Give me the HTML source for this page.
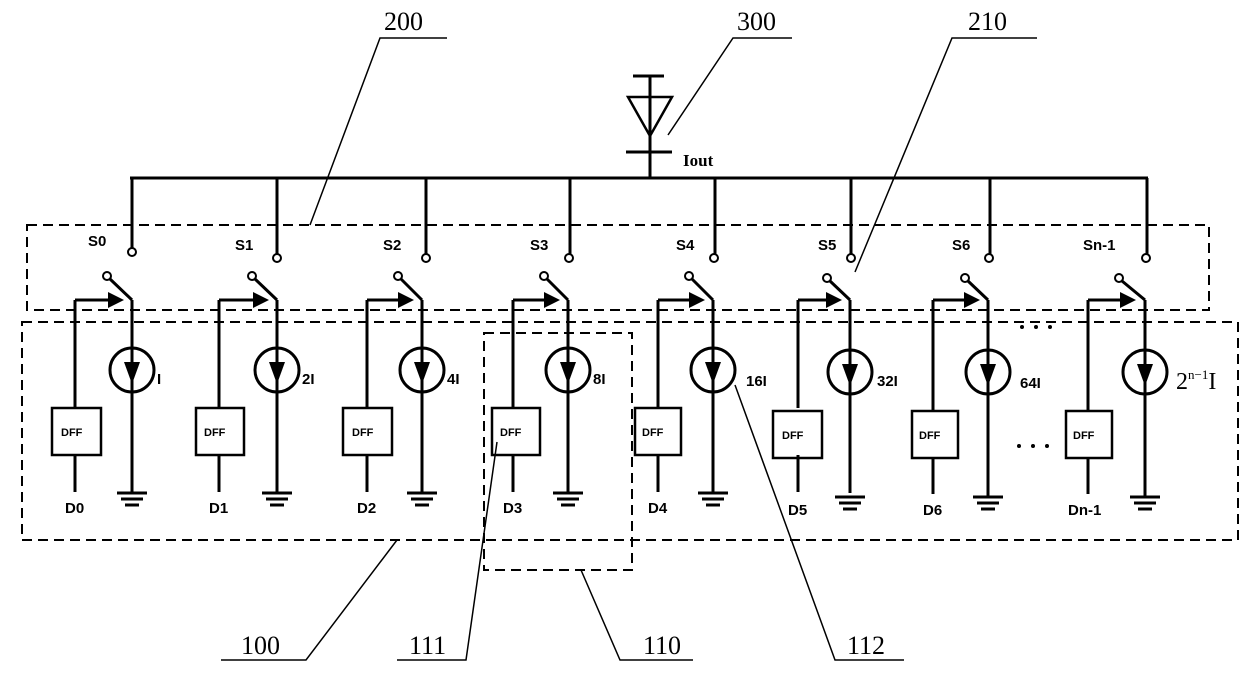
<!DOCTYPE html>
<html><head><meta charset="utf-8"><style>
html,body{margin:0;padding:0;background:#fff;width:1240px;height:694px;overflow:hidden}
svg{display:block}
.b{font-family:"Liberation Sans",sans-serif;font-weight:bold;font-size:15px}
.n{font-family:"Liberation Serif",serif;font-size:26px}
</style></head><body>
<svg width="1240" height="694" viewBox="0 0 1240 694" xmlns="http://www.w3.org/2000/svg">
<defs>
<g id="gnd" stroke="#000" stroke-width="3"><line x1="-15" y1="0" x2="15" y2="0"/><line x1="-11" y1="6" x2="11" y2="6"/><line x1="-7" y1="12" x2="7" y2="12"/></g>
</defs>
<g fill="none" stroke="#000" stroke-width="2" stroke-dasharray="10,6">
<rect x="27" y="225" width="1182" height="85"/>
<rect x="22" y="322" width="1216" height="218"/>
<rect x="484" y="333" width="148" height="237"/>
</g>
<g stroke="#000" stroke-width="3" fill="none">
<line x1="130" y1="178" x2="1148" y2="178"/>
<line x1="650" y1="178" x2="650" y2="76"/>
<line x1="633" y1="76" x2="664" y2="76"/>
<polygon points="628,97 672,97 650,136" stroke-width="2.5"/>
<line x1="626" y1="152" x2="672" y2="152"/>
</g>
<text x="683" y="166" style="font-family:'Liberation Serif',serif;font-size:17px;font-weight:bold">Iout</text>
<g stroke="#000" stroke-width="1.5" fill="none">
<polyline points="447,38 380,38 310,225"/>
<polyline points="792,38 733,38 668,135"/>
<polyline points="1037,38 952,38 855,272"/>
<polyline points="221,660 306,660 397,540"/>
<polyline points="397,660 466,660 497,442"/>
<polyline points="693,660 620,660 581,570"/>
<polyline points="904,660 835,660 735,385"/>
</g>
<g class="n">
<text x="384" y="30">200</text><text x="737" y="30">300</text><text x="968" y="30">210</text>
<text x="241" y="654">100</text><text x="409" y="654">111</text><text x="643" y="654">110</text><text x="847" y="654">112</text>
</g>
<g id="c">
<g stroke="#000" stroke-width="3" fill="none">
<path d="M132 178V248 M132 300V493 M75 300V408 M75 455V492 M75 300H110"/>
<circle cx="132" cy="252" r="4" stroke-width="2"/><circle cx="107" cy="276" r="4" stroke-width="2"/>
<line x1="110" y1="279" x2="132" y2="300"/>
<circle cx="132" cy="370" r="22"/>
<rect x="52" y="408" width="49" height="47" stroke-width="2.5"/>
</g>
<polygon points="108,292 124,300 108,308"/><polygon points="124,362 140,362 132,384"/>
<use href="#gnd" x="132" y="493"/>
<g stroke="#000" stroke-width="3" fill="none">
<path d="M277 178V254 M277 300V493 M219 300V408 M219 455V492 M219 300H255"/>
<circle cx="277" cy="258" r="4" stroke-width="2"/><circle cx="252" cy="276" r="4" stroke-width="2"/>
<line x1="255" y1="279" x2="277" y2="300"/>
<circle cx="277" cy="370" r="22"/>
<rect x="196" y="408" width="48" height="47" stroke-width="2.5"/>
</g>
<polygon points="253,292 269,300 253,308"/><polygon points="269,362 285,362 277,384"/>
<use href="#gnd" x="277" y="493"/>
<g stroke="#000" stroke-width="3" fill="none">
<path d="M426 178V254 M422 300V493 M367 300V408 M367 455V492 M367 300H400"/>
<circle cx="426" cy="258" r="4" stroke-width="2"/><circle cx="398" cy="276" r="4" stroke-width="2"/>
<line x1="401" y1="279" x2="422" y2="300"/>
<circle cx="422" cy="370" r="22"/>
<rect x="343" y="408" width="49" height="47" stroke-width="2.5"/>
</g>
<polygon points="398,292 414,300 398,308"/><polygon points="414,362 430,362 422,384"/>
<use href="#gnd" x="422" y="493"/>
<g stroke="#000" stroke-width="3" fill="none">
<path d="M570 178V254 M568 300V493 M513 300V408 M513 455V492 M513 300H545"/>
<circle cx="569" cy="258" r="4" stroke-width="2"/><circle cx="544" cy="276" r="4" stroke-width="2"/>
<line x1="547" y1="279" x2="568" y2="300"/>
<circle cx="568" cy="370" r="22"/>
<rect x="492" y="408" width="48" height="47" stroke-width="2.5"/>
</g>
<polygon points="544,292 560,300 544,308"/><polygon points="560,362 576,362 568,384"/>
<use href="#gnd" x="568" y="493"/>
<g stroke="#000" stroke-width="3" fill="none">
<path d="M715 178V254 M713 300V493 M658 300V408 M658 455V492 M658 300H690"/>
<circle cx="714" cy="258" r="4" stroke-width="2"/><circle cx="689" cy="276" r="4" stroke-width="2"/>
<line x1="692" y1="279" x2="713" y2="300"/>
<circle cx="713" cy="370" r="22"/>
<rect x="635" y="408" width="46" height="47" stroke-width="2.5"/>
</g>
<polygon points="689,292 705,300 689,308"/><polygon points="705,362 721,362 713,384"/>
<use href="#gnd" x="713" y="493"/>
<g stroke="#000" stroke-width="3" fill="none">
<path d="M851 178V254 M850 300V493 M798 300V408 M798 455V492 M798 300H828"/>
<circle cx="851" cy="258" r="4" stroke-width="2"/><circle cx="827" cy="278" r="4" stroke-width="2"/>
<line x1="830" y1="281" x2="850" y2="300"/>
<circle cx="850" cy="372" r="22"/>
<rect x="773" y="411" width="49" height="47" stroke-width="2.5"/>
</g>
<polygon points="826,292 842,300 826,308"/><polygon points="842,364 858,364 850,386"/>
<use href="#gnd" x="850" y="497"/>
<g stroke="#000" stroke-width="3" fill="none">
<path d="M990 178V254 M988 300V497 M933 300V411 M933 458V494 M933 300H966"/>
<circle cx="989" cy="258" r="4" stroke-width="2"/><circle cx="965" cy="278" r="4" stroke-width="2"/>
<line x1="968" y1="281" x2="988" y2="300"/>
<circle cx="988" cy="372" r="22"/>
<rect x="912" y="411" width="46" height="47" stroke-width="2.5"/>
</g>
<polygon points="964,292 980,300 964,308"/><polygon points="980,364 996,364 988,386"/>
<use href="#gnd" x="988" y="497"/>
<g stroke="#000" stroke-width="3" fill="none">
<path d="M1147 178V254 M1145 300V497 M1088 300V411 M1088 458V494 M1088 300H1122"/>
<circle cx="1146" cy="258" r="4" stroke-width="2"/><circle cx="1119" cy="278" r="4" stroke-width="2"/>
<line x1="1122" y1="281" x2="1145" y2="300"/>
<circle cx="1145" cy="372" r="22"/>
<rect x="1066" y="411" width="46" height="47" stroke-width="2.5"/>
</g>
<polygon points="1120,292 1136,300 1120,308"/><polygon points="1137,364 1153,364 1145,386"/>
<use href="#gnd" x="1145" y="497"/>
</g>
<g class="b">
<text x="88" y="246">S0</text><text x="235" y="250">S1</text><text x="383" y="250">S2</text><text x="530" y="250">S3</text>
<text x="676" y="250">S4</text><text x="818" y="250">S5</text><text x="952" y="250">S6</text><text x="1083" y="250">Sn-1</text>
<text x="157" y="384">I</text><text x="302" y="384">2I</text><text x="447" y="384">4I</text><text x="593" y="384">8I</text>
<text x="746" y="386">16I</text><text x="877" y="386">32I</text><text x="1020" y="388">64I</text>
<text x="65" y="513">D0</text><text x="209" y="513">D1</text><text x="357" y="513">D2</text><text x="503" y="513">D3</text>
<text x="648" y="513">D4</text><text x="788" y="515">D5</text><text x="923" y="515">D6</text><text x="1068" y="515">Dn-1</text>
</g>
<g font-family="Liberation Sans" font-weight="bold" font-size="11">
<text x="61" y="436">DFF</text><text x="204" y="436">DFF</text><text x="352" y="436">DFF</text><text x="500" y="436">DFF</text>
<text x="642" y="436">DFF</text><text x="782" y="439">DFF</text><text x="919" y="439">DFF</text><text x="1073" y="439">DFF</text>
</g>
<text x="1176" y="389" style="font-family:'Liberation Serif',serif;font-size:24px">2<tspan dy="-10" font-size="13">n−1</tspan><tspan dy="10">I</tspan></text>
<g fill="#000"><circle cx="1022" cy="327" r="2"/><circle cx="1036" cy="327" r="2"/><circle cx="1050" cy="327" r="2"/>
<circle cx="1019" cy="446" r="2"/><circle cx="1033" cy="446" r="2"/><circle cx="1047" cy="446" r="2"/></g>
</svg>
</body></html>
